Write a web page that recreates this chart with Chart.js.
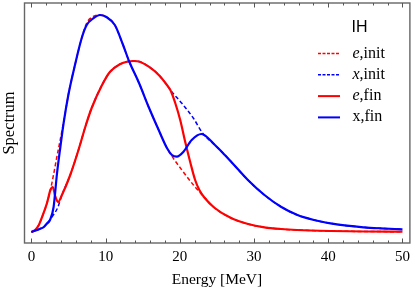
<!DOCTYPE html>
<html>
<head>
<meta charset="utf-8">
<script src="https://cdn.jsdelivr.net/npm/chart.js@4/dist/chart.umd.min.js"></script>
<style>
  body { margin: 0; background: #fff; }
  canvas { display: block; }
</style>
</head>
<body>
<canvas id="grafico" width="415" height="291"></canvas>
<script>
// energie (MeV) e spettri, unita' arbitrarie
const eInitE = [0, 0.5, 1.0, 1.44, 2.1, 2.56, 3.0, 3.35, 4.34, 5.0, 5.9, 6.78, 7.45, 8.34, 9.24, 10.1, 11.24, 12.35, 13.15, 14.5, 15.8, 17.15, 18.26, 20.27, 22.06, 23.4, 24.7, 26.9, 29.2, 31.4, 33.6, 35.8, 40.3, 45, 50];
const eInitS = [0, 2, 7, 15, 29, 42, 58, 72, 110, 138, 168, 194, 209, 215.5, 217, 215, 207, 187, 171, 149, 125, 102, 84, 62, 45, 34, 24, 14, 8, 4.7, 3, 2, 1, 0.5, 0.3];

const xInitE = [0, 1.1, 1.67, 2.03, 2.85, 3.58, 3.8, 4.11, 5.23, 6.34, 7.34, 8.12, 9.45, 10.57, 11.91, 13.0, 13.8, 14.6, 15.82, 17.16, 18.26, 18.72, 20.27, 21.83, 23.16, 24.73, 26.06, 26.94, 29.17, 31.4, 33.62, 35.85, 38.08, 40.3, 42.52, 44.75, 46.97, 50];
const xInitS = [0, 3, 5, 8, 16, 25, 30, 37, 57, 82, 107, 124, 146, 160, 167.7, 170.5, 171, 170.3, 165.3, 157, 147, 142, 128.7, 113.7, 98, 87, 77, 70, 52, 37, 25.3, 17, 12, 8.7, 6.3, 4.7, 3.7, 2.7];

const eFinE = [0, 0.5, 1.0, 1.44, 2.1, 2.56, 2.87, 3.2, 3.6, 4.11, 5.23, 6.34, 7.34, 8.12, 9.45, 10.57, 11.91, 13.0, 13.8, 14.6, 15.82, 17.16, 18.26, 18.72, 19.38, 20.05, 20.76, 21.43, 22.06, 22.63, 23.3, 24.7, 26.9, 29.2, 31.4, 33.6, 35.8, 40.3, 45, 50];
const eFinS = [0, 2, 7, 15, 29, 42, 45, 36, 30, 37, 57, 82, 107, 124, 146, 160, 167.7, 170.5, 171, 170.3, 165.3, 157, 147, 142, 129, 112, 89, 69, 52, 42, 34.5, 24, 14, 8, 4.7, 3, 2, 1, 0.5, 0.3];

const xFinE = [0, 1.1, 1.67, 2.03, 2.5, 2.99, 3.44, 3.9, 4.34, 5.0, 5.9, 6.78, 7.45, 8.34, 9.24, 10.1, 11.24, 12.35, 13.15, 14.5, 15.8, 17.15, 18.26, 18.93, 19.6, 20.49, 21.6, 22.9, 24.73, 26.06, 26.94, 29.17, 31.4, 33.62, 35.85, 38.08, 40.3, 42.52, 44.75, 46.97, 50];
const xFinS = [0, 3, 5, 8, 12, 25, 58, 85, 109, 138, 168, 194, 207, 213.7, 217, 215, 207, 187, 171, 149, 125, 102, 84, 77, 75.3, 80.3, 92, 98, 87, 77, 70, 52, 37, 25.3, 17, 12, 8.7, 6.3, 4.7, 3.7, 2.7];

const xTicks = [0, 10, 20, 30, 40, 50];
const legendTitle = 'IH';
const legendRows = [
  { sym: 'e', rest: ',init', italic: true, color: '#ff0000', dash: true },
  { sym: 'x', rest: ',init', italic: true, color: '#0000ff', dash: true },
  { sym: 'e', rest: ',fin', italic: true, color: '#ff0000', dash: false },
  { sym: 'x', rest: ',fin', italic: false, color: '#0000ff', dash: false }
];

const serif = '"Liberation Serif", "Times New Roman", serif';

function punti(es, vs) {
  return es.map((e, i) => ({ x: e, y: vs[i] }));
}

// cornice e tacche interne (sopra e sotto)
const cornice = {
  id: 'cornice',
  afterDraw(chart) {
    const c = chart.ctx, a = chart.chartArea, sx = chart.scales.x;
    c.save();
    c.strokeStyle = '#666';
    c.lineWidth = 1.4;
    c.strokeRect(a.left + 0.5, a.top, a.right - a.left - 0.5, a.bottom - a.top);
    c.lineWidth = 1;
    c.strokeStyle = '#555';
    for (let v = 0; v <= 50; v += 2) {
      const px = Math.round(sx.getPixelForValue(v)) + 0.5;
      const len = v % 10 === 0 ? 4.5 : 2.5;
      c.beginPath();
      c.moveTo(px, a.bottom); c.lineTo(px, a.bottom - len);
      c.moveTo(px, a.top); c.lineTo(px, a.top + len);
      c.stroke();
    }
    c.restore();
  }
};

// legenda disegnata a mano per avere le lettere in corsivo
const legenda = {
  id: 'legenda',
  afterDraw(chart) {
    const c = chart.ctx;
    c.save();
    c.fillStyle = '#000';
    c.textBaseline = 'alphabetic';
    c.font = '16px "Liberation Sans", Arial, sans-serif';
    c.fillText(legendTitle, 351.5, 32);
    legendRows.forEach((r, i) => {
      const y = 53.5 + i * 21.3;
      c.strokeStyle = r.color;
      c.lineWidth = r.dash ? 1.5 : 2;
      c.setLineDash(r.dash ? [3, 1.5] : []);
      c.beginPath();
      c.moveTo(318, y); c.lineTo(340, y);
      c.stroke();
      c.setLineDash([]);
      c.font = (r.italic ? 'italic ' : '') + '16px ' + serif;
      c.fillText(r.sym, 352.5, y + 4);
      const w = c.measureText(r.sym).width;
      c.font = '16px ' + serif;
      c.fillText(r.rest, 352.5 + w, y + 4);
    });
    c.restore();
  }
};

function serie(label, es, vs, colore, tratteggio, ordine) {
  return {
    label: label,
    data: punti(es, vs),
    borderColor: colore,
    borderWidth: tratteggio ? 1.5 : 2.2,
    borderDash: tratteggio ? [4, 2.5] : [],
    fill: false,
    pointRadius: 0,
    cubicInterpolationMode: 'monotone',
    order: ordine
  };
}

window.onload = () => {
  new Chart(document.getElementById('grafico'), {
    type: 'line',
    data: {
      datasets: [
        serie('e,init', eInitE, eInitS, '#ff0000', true, 4),
        serie('x,init', xInitE, xInitS, '#0000ff', true, 3),
        serie('e,fin', eFinE, eFinS, '#ff0000', false, 2),
        serie('x,fin', xFinE, xFinS, '#0000ff', false, 1)
      ]
    },
    options: {
      responsive: false,
      animation: false,
      devicePixelRatio: 1,
      layout: { padding: { top: 3, right: 1.5, left: 0, bottom: 0 } },
      plugins: { legend: { display: false }, tooltip: { enabled: false } },
      scales: {
        x: {
          type: 'linear',
          min: -1,
          max: 51,
          grid: { display: false, drawTicks: false },
          border: { display: false },
          afterBuildTicks: s => { s.ticks = xTicks.map(v => ({ value: v })); },
          ticks: { color: '#000', font: { family: serif, size: 15 }, padding: 5, maxRotation: 0, autoSkip: false },
          title: { display: true, text: 'Energy [MeV]', color: '#000', font: { family: serif, size: 15.5 }, padding: { top: 0, bottom: 2 } },
          afterFit: s => { s.height = 48; }
        },
        y: {
          min: -11,
          max: 229,
          grid: { display: false, drawTicks: false },
          border: { display: false },
          ticks: { display: false },
          title: { display: true, text: 'Spectrum', color: '#000', font: { family: serif, size: 16.5 }, padding: 0 },
          afterFit: s => { s.width = 24; }
        }
      }
    },
    plugins: [cornice, legenda]
  });
};
</script>
</body>
</html>
